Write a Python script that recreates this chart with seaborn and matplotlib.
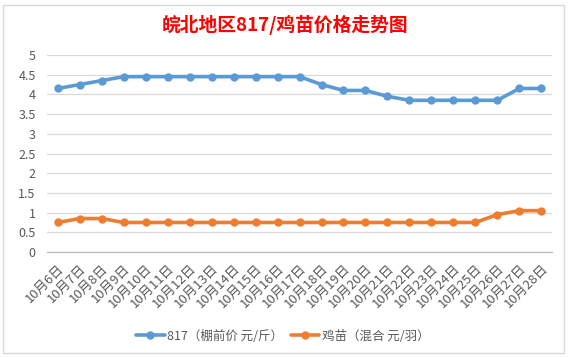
import numpy as np
import pandas as pd
import matplotlib
matplotlib.use('Agg')
import matplotlib.pyplot as plt
import seaborn as sns
from matplotlib.patches import Rectangle

# data
dates = ['10月%d日' % d for d in range(6, 29)]
price_817 = [4.15, 4.25, 4.35, 4.45, 4.45, 4.45, 4.45, 4.45, 4.45, 4.45, 4.45, 4.45,
             4.25, 4.1, 4.1, 3.95, 3.85, 3.85, 3.85, 3.85, 3.85, 4.15, 4.15]
price_chick = [0.75, 0.85, 0.85, 0.75, 0.75, 0.75, 0.75, 0.75, 0.75, 0.75, 0.75, 0.75,
               0.75, 0.75, 0.75, 0.75, 0.75, 0.75, 0.75, 0.75, 0.95, 1.05, 1.05]
series_names = ['817（棚前价 元/斤）', '鸡苗（混合 元/羽）']
colors = ['#5B9BD5', '#ED7D31']

df = pd.DataFrame({
    'date': dates * 2,
    'price': price_817 + price_chick,
    'series': [series_names[0]] * len(dates) + [series_names[1]] * len(dates),
})

sns.set_style('white')
plt.rcParams['font.family'] = ['Noto Sans CJK SC', 'DejaVu Sans']

fig = plt.figure(figsize=(5.7, 3.57), dpi=100)
ax = fig.add_axes([0.082, 0.294, 0.887, 0.552])

sns.lineplot(data=df, x='date', y='price', hue='series', palette=colors,
             marker='o', markersize=6, markeredgewidth=0, linewidth=2.6,
             sort=False, ax=ax, legend=True)

ax.set_ylim(0, 5)
ax.set_xlim(-0.5, len(dates) - 0.5)
ax.set_yticks(np.arange(0, 5.01, 0.5))
ax.set_yticklabels(['0', '0.5', '1', '1.5', '2', '2.5', '3', '3.5', '4', '4.5', '5'])
ax.yaxis.grid(True, color='#D9D9D9', linewidth=0.9)
ax.set_axisbelow(True)
for s in ['top', 'right', 'left']:
    ax.spines[s].set_visible(False)
ax.spines['bottom'].set_color('#BFBFBF')
ax.spines['bottom'].set_linewidth(0.9)

ax.set_xticks(range(len(dates)))
ax.set_xticklabels(dates, rotation=45, ha='right', rotation_mode='anchor')
ax.set_xticks(np.arange(-0.5, len(dates), 1), minor=True)
ax.tick_params(axis='x', which='major', length=0, pad=7, labelsize=9.5, labelcolor='#595959')
ax.tick_params(axis='x', which='minor', length=5, color='#BFBFBF', width=0.9, direction='out')
ax.tick_params(axis='y', length=0, pad=8, labelsize=9, labelcolor='#595959')
ax.set_xlabel('')
ax.set_ylabel('')

handles, labels = ax.get_legend_handles_labels()
ax.get_legend().remove()
fig.legend(handles, labels, loc='center', bbox_to_anchor=(0.496, 0.058), ncol=2,
           frameon=False, fontsize=9, handlelength=2.3, handletextpad=0.2,
           columnspacing=0.6, labelcolor='#595959')

fig.text(0.5, 1 - 25 / 357, '皖北地区817/鸡苗价格走势图', ha='center', va='center',
         fontsize=13.5, fontweight='bold', color='#FF0000')

fig.patches.append(Rectangle((3 / 570, 4 / 357), 561 / 570, 348 / 357,
                             transform=fig.transFigure, fill=False,
                             edgecolor='#D9D9D9', linewidth=1))

fig.savefig('out.png', dpi=100, facecolor='white')
